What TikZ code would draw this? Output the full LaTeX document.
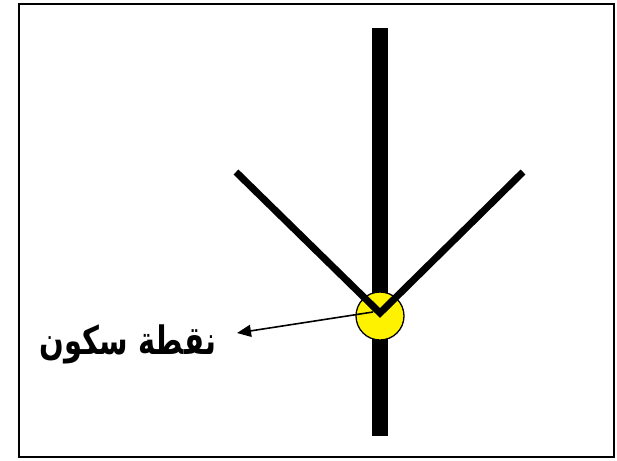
\documentclass[tikz,border=0pt]{standalone}
\usepackage{fontspec}
\newfontfamily\arabicfont[Script=Arabic]{DejaVu Sans}
\TeXXeTstate=1
\usetikzlibrary{arrows.meta}
\tikzset{
    frame/.style={draw, line width=1.5pt},
    post/.style={line width=16pt},
    limb/.style={line width=7pt, line join=miter},
    pivot/.style={circle, draw, fill=yellow, line width=1.3pt, minimum size=48pt, inner sep=0pt},
    arrow/.style={-{Triangle[length=14pt, width=12pt]}, line width=1.6pt},
    arabic/.style={font=\arabicfont\bfseries\fontsize{29}{36}\selectfont},
}
\begin{document}
\begin{tikzpicture}[x=1pt, y=-1pt]

% Page and frame
\useasboundingbox (0,0) rectangle (617,460);
\draw[frame] (19,4) rectangle (614,457);

% Vertical post
\coordinate (posttop) at (380,28);
\coordinate (postbot) at (380,436);
\draw[post] (posttop) -- (postbot);

% Rest point
\node[pivot] (rest) at (380,316) {};

% Two arms of the V
\coordinate (leftend) at (236,172);
\coordinate (rightend) at (523,172);
\coordinate (vertex) at (380,313);
\draw[limb] (leftend) -- (vertex) -- (rightend);

% Label and pointer
\node[arabic] (label) at (128,344) {\scalebox{1}[1.35]{\beginR نقطة سكون\endR}};
\coordinate (tip) at (237,333);
\coordinate (start) at (373,312);
\draw[arrow] (start) -- (tip);

\end{tikzpicture}
\end{document}
